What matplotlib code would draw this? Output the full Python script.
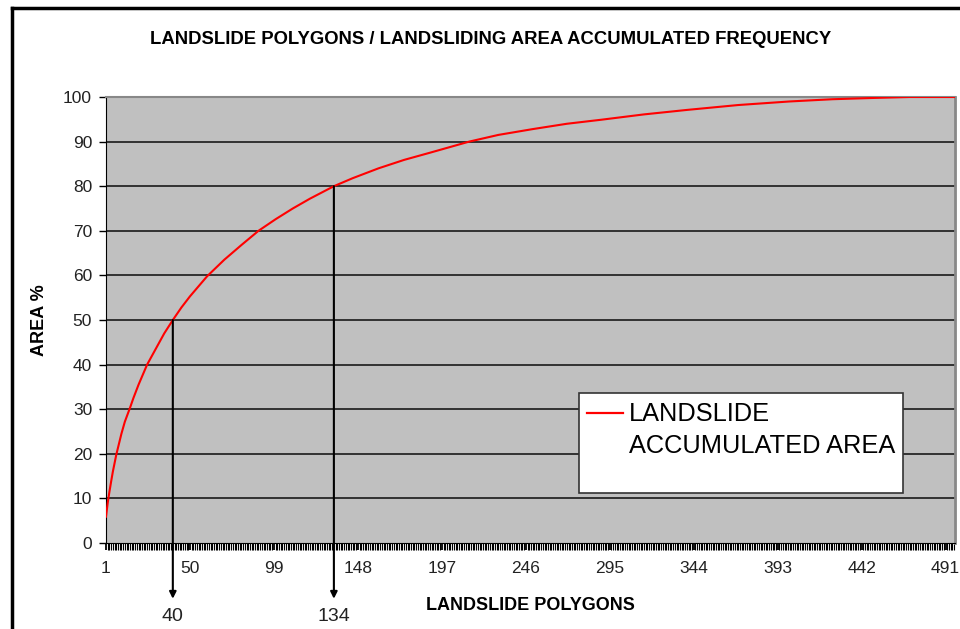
import numpy as np
import matplotlib
matplotlib.use("Agg")
import matplotlib.pyplot as plt
from matplotlib.lines import Line2D
from matplotlib.patches import Rectangle

plt.rcParams['font.family'] = ['Liberation Sans', 'DejaVu Sans']

# values (polygon rank, accumulated area %)
polygons = [1, 2, 3, 4, 5, 7, 10, 12, 15, 17, 20, 25, 30, 35, 40, 45, 50, 60,
            70, 80, 90, 100, 110, 120, 134, 145, 160, 175, 190, 213, 230, 250,
            270, 290, 315, 340, 370, 400, 425, 450, 470, 496]
area_pct = [5.9, 9.0, 11.5, 13.8, 16.0, 19.8, 24.5, 27.2, 30.3, 32.5, 35.5,
            40.0, 43.5, 47.0, 50.0, 52.8, 55.3, 59.8, 63.5, 66.8, 70.0, 72.6,
            75.0, 77.2, 80.0, 81.8, 84.0, 85.9, 87.5, 90.0, 91.5, 92.8, 94.0,
            94.9, 96.1, 97.1, 98.2, 99.0, 99.5, 99.8, 100.0, 100.0]

n_polygons = 496
x_ticks = list(range(1, n_polygons, 49))
y_ticks = list(range(0, 101, 10))

# marked points: (polygons, area %)
marks_x = [40, 134]
marks_y = [50, 80]

fig = plt.figure(figsize=(9.6, 6.29), dpi=100)
W, H = 960, 629
ax = fig.add_axes([106 / W, 1 - 543 / H, (955 - 106) / W, (543 - 97) / H])
ax.set_facecolor('#c0c0c0')

ax.plot(polygons, area_pct, color='#ff0000', lw=1.5, zorder=3)

ax.set_xlim(1, n_polygons + 0.5)
ax.set_ylim(0, 100)
ax.set_yticks(y_ticks)
ax.set_xticks(x_ticks)
ax.set_xticks(np.arange(1, n_polygons + 1), minor=True)
ax.tick_params(axis='y', length=5, width=1, pad=5, labelsize=12.5, colors='black')
ax.tick_params(axis='x', which='major', length=5, width=1.3, pad=8, labelsize=12.5)
ax.tick_params(axis='x', which='minor', length=5, width=0.8)
for t in ax.get_xticklabels() + ax.get_yticklabels():
    t.set_color('#222222')

for v in y_ticks[1:-1]:
    ax.axhline(v, color='#1a1a1a', lw=1.2, zorder=1)

ax.spines['left'].set_color('black')
ax.spines['bottom'].set_color('black')
ax.spines['top'].set_color('#888888')
ax.spines['right'].set_color('#888888')
ax.spines['top'].set_linewidth(1.5)
ax.spines['right'].set_linewidth(2)

# arrows down from the curve to below the axis
for mx, my in zip(marks_x, marks_y):
    ax.annotate('', xy=(mx, -12.5), xytext=(mx, my),
                arrowprops=dict(arrowstyle='-|>', color='black', lw=1.5,
                                mutation_scale=10, shrinkA=0, shrinkB=0),
                annotation_clip=False, zorder=4)
    ax.text(mx, -16.5, str(mx), ha='center', va='center', fontsize=14,
            color='#222222', clip_on=False)

# titles
fig.text(491 / W, 1 - 40 / H, 'LANDSLIDE POLYGONS / LANDSLIDING AREA ACCUMULATED FREQUENCY',
         ha='center', va='center', fontsize=13.3, fontweight='bold')
fig.text(530 / W, 1 - 605 / H, 'LANDSLIDE POLYGONS', ha='center', va='center',
         fontsize=13, fontweight='bold')
fig.text(40 / W, 1 - 320 / H, 'AREA %', ha='center', va='center', rotation=90,
         fontsize=13, fontweight='bold')

# legend box
fig.patches.append(Rectangle((579 / W, 1 - 493 / H), (903 - 579) / W, (493 - 393) / H,
                             transform=fig.transFigure, facecolor='white',
                             edgecolor='#333333', lw=1.2, zorder=5))
fig.lines.append(Line2D([587 / W, 623 / W], [1 - 413 / H, 1 - 413 / H],
                        transform=fig.transFigure, color='#ff0000', lw=1.6, zorder=6))
fig.text(629 / W, 1 - 414 / H, 'LANDSLIDE', ha='left', va='center', fontsize=18.3,
         zorder=6)
fig.text(629 / W, 1 - 446 / H, 'ACCUMULATED AREA', ha='left', va='center',
         fontsize=18.3, zorder=6)

# outer chart frame (cropped at right and bottom)
fig.lines.append(Line2D([12 / W, 1.0], [1 - 8 / H, 1 - 8 / H], transform=fig.transFigure,
                        color='black', lw=2.5))
fig.lines.append(Line2D([12 / W, 12 / W], [0, 1 - 8 / H], transform=fig.transFigure,
                        color='black', lw=2.5))

fig.savefig('out.png', dpi=100)
